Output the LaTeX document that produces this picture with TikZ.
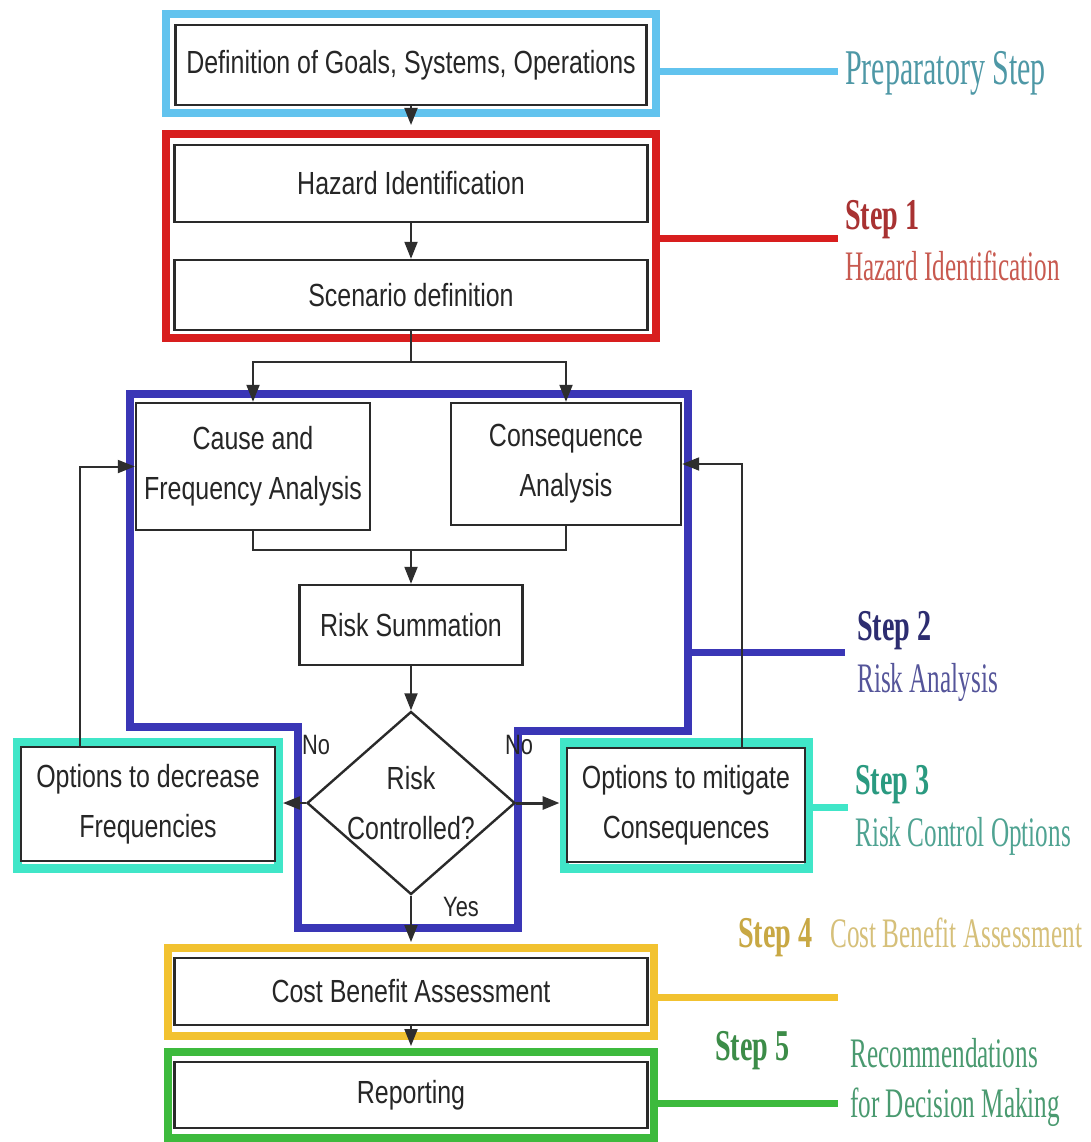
\documentclass[tikz,border=0pt]{standalone}
\usepackage{fontspec}
\usetikzlibrary{arrows.meta,shapes.geometric}
\newfontfamily\boxfont{Liberation Sans}[FakeStretch=0.78]
\newfontfamily\labfont{Liberation Serif}[FakeStretch=0.6]
\newfontfamily\stepfont{Liberation Serif}[FakeStretch=0.64]
% frame colours
\definecolor{prepF}{HTML}{62C3EE}
\definecolor{redF}{HTML}{D81E1E}
\definecolor{blueF}{HTML}{3A36B6}
\definecolor{tealF}{HTML}{40E6C8}
\definecolor{yelF}{HTML}{F2C230}
\definecolor{grnF}{HTML}{3DBA3D}
% label colours
\definecolor{prepT}{HTML}{4E98A6}
\definecolor{s1T}{HTML}{A83232}
\definecolor{s1t}{HTML}{C85A50}
\definecolor{s2T}{HTML}{2D2D70}
\definecolor{s2t}{HTML}{55559A}
\definecolor{s3T}{HTML}{2A9A80}
\definecolor{s3t}{HTML}{4FA392}
\definecolor{s4T}{HTML}{C8A844}
\definecolor{s4t}{HTML}{D6C07A}
\definecolor{s5T}{HTML}{3C8C48}
\definecolor{s5t}{HTML}{4A9A70}
\definecolor{boxline}{HTML}{2A2A2A}
\definecolor{flowline}{HTML}{2E2E2E}
\begin{document}
\begin{tikzpicture}[x=1pt,y=-1pt,
  frame/.style={draw, line width=8pt, inner sep=0pt, rectangle},
  box/.style={draw=boxline, line width=2.4pt, fill=white, inner sep=0pt, align=center,
    font=\boxfont\fontsize{32}{50}\selectfont, text=black!85},
  flow/.style={draw=flowline, line width=2pt},
  arrow/.style={flow, -{Triangle[length=17pt,width=13pt]}},
  lab/.style={anchor=mid west, inner sep=0pt, font=\labfont\fontsize{42}{50}\selectfont},
  steplab/.style={anchor=mid west, inner sep=0pt, font=\stepfont\bfseries\fontsize{44}{50}\selectfont},
  small/.style={inner sep=0pt, font=\boxfont\fontsize{28}{32}\selectfont, text=black!85},
  link/.style={line width=7pt}]
\useasboundingbox[fill=white] (0,0) rectangle (1091,1142);

% ---- coloured step frames ----
\node[frame, draw=prepF, minimum width=490pt, minimum height=99pt] (prepframe) at (411,63.5) {};
\node[frame, draw=redF, minimum width=490pt, minimum height=204pt] (redframe) at (411,236) {};
\coordinate (b1) at (130,394);
\coordinate (b2) at (688,394);
\coordinate (b3) at (688,731);
\coordinate (b4) at (518,731);
\coordinate (b5) at (518,928);
\coordinate (b6) at (298,928);
\coordinate (b7) at (298,727);
\coordinate (b8) at (130,727);
\draw[line width=8pt, draw=blueF, line join=miter] (b1) -- (b2) -- (b3) -- (b4) -- (b5) -- (b6) -- (b7) -- (b8) -- cycle;
\node[frame, draw=tealF, line width=9pt, minimum width=261pt, minimum height=126pt] (optdecframe) at (148,805.5) {};
\node[frame, draw=tealF, line width=9pt, minimum width=244pt, minimum height=126pt] (optmitframe) at (686,805.5) {};
\node[frame, draw=yelF, minimum width=486pt, minimum height=88pt] (yelframe) at (411,992) {};
\node[frame, draw=grnF, minimum width=486pt, minimum height=86pt] (grnframe) at (411,1095) {};

% ---- link lines to the step labels ----
\coordinate (prepend) at (838,72);
\coordinate (s1end) at (838,238);
\coordinate (s2end) at (845,652);
\coordinate (s3end) at (848,807);
\coordinate (s4end) at (838,997);
\coordinate (s5end) at (838,1103);
\draw[link, draw=prepF] (prepframe.east |- prepend) -- (prepend);
\draw[link, draw=redF] (redframe.east |- s1end) -- (s1end);
\draw[link, draw=blueF] (b2 |- s2end) -- (s2end);
\draw[link, draw=tealF] (optmitframe.east |- s3end) -- (s3end);
\draw[link, draw=yelF] (yelframe.east |- s4end) -- (s4end);
\draw[link, draw=grnF] (grnframe.east |- s5end) -- (s5end);

% ---- process boxes ----
\node[box, minimum width=471pt, minimum height=80pt] (def) at (411,65) {Definition of Goals, Systems, Operations};
\node[box, minimum width=473pt, minimum height=77pt] (haz) at (411,183.5) {Hazard Identification};
\node[box, minimum width=473pt, minimum height=70pt] (scen) at (411,295) {Scenario definition};
\node[box, minimum width=234pt, minimum height=127pt] (cause) at (253,466.5) {Cause and\\Frequency Analysis};
\node[box, minimum width=230pt, minimum height=122pt] (cons) at (566,464) {Consequence\\Analysis};
\node[box, minimum width=223pt, minimum height=80pt] (sum) at (411,625) {Risk Summation};
\node[diamond, draw=boxline, line width=2.4pt, inner sep=0pt, minimum width=208pt, minimum height=183pt] (dec) at (411,803) {};
\node[box, draw=none, fill=none] (dectext) at (dec.center) {Risk\\Controlled?};
\node[box, minimum width=254pt, minimum height=114pt] (optdec) at (148,804) {Options to decrease\\Frequencies};
\node[box, minimum width=238pt, minimum height=114pt] (optmit) at (686,805) {Options to mitigate\\Consequences};
\node[box, minimum width=473pt, minimum height=67pt] (cost) at (411,991.5) {Cost Benefit Assessment};
\node[box, minimum width=473pt, minimum height=66pt] (rep) at (411,1095) {Reporting};

% ---- flow connectors ----
\draw[arrow, shorten >=5pt] (def.south) -- (redframe.north);
\draw[arrow] (haz.south) -- (scen.north);
\coordinate (splitpt) at (411,362);
\draw[flow] (scen.south) -- (splitpt);
\draw[arrow] (splitpt) -| (cause.north);
\draw[arrow] (splitpt) -| (cons.north);
\coordinate (mergept) at (411,550);
\draw[flow] (cause.south) |- (mergept) -| (cons.south);
\draw[arrow] (mergept) -- (sum.north);
\draw[arrow] (sum.south) -- (dec.north);
\draw[arrow] (dec.west) -- (dec.west -| optdecframe.east);
\draw[arrow, line width=3pt] (dec.east) -- (dec.east -| optmitframe.west);
\draw[arrow] ([xshift=-68pt]optdec.north) |- (cause.west);
\draw[arrow] ([xshift=56pt]optmit.north) |- (cons.east);
\draw[arrow, shorten >=2pt] (dec.south) -- (yelframe.north);
\draw[arrow, shorten >=2pt] (cost.south) -- (grnframe.north);

% ---- decision labels ----
\node[small] (noleft) at (316,745) {No};
\node[small] (noright) at (519,745) {No};
\node[small] (yes) at (461,907) {Yes};

% ---- step labels ----
\node[lab, text=prepT, font=\labfont\fontsize{50}{54}\selectfont] (prep) at (845,82) {Preparatory Step};
\node[steplab, text=s1T] (s1) at (845,227) {Step 1};
\node[lab, text=s1t] (s1name) at (845,278) {Hazard Identification};
\node[steplab, text=s2T] (s2) at (857,638) {Step 2};
\node[lab, text=s2t] (s2name) at (857,690) {Risk Analysis};
\node[steplab, text=s3T] (s3) at (855,792) {Step 3};
\node[lab, text=s3t] (s3name) at (855,844) {Risk Control Options};
\node[steplab, text=s4T] (s4) at (738,945) {Step 4};
\node[lab, text=s4t] (s4name) at (830,945) {Cost Benefit Assessment};
\node[steplab, text=s5T] (s5) at (715,1058) {Step 5};
\node[lab, text=s5t] (s5name) at (850,1065) {Recommendations};
\node[lab, text=s5t] (s5more) at (850,1115) {for Decision Making};
\end{tikzpicture}
\end{document}
